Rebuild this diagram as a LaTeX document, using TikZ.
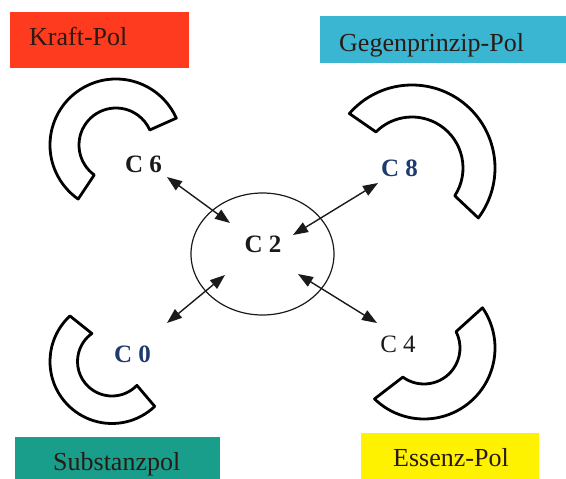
\documentclass[tikz,border=0pt]{standalone}
\usepackage{fontspec}
\setmainfont{Liberation Serif}
\usetikzlibrary{arrows.meta,shapes.geometric}
\definecolor{kraftred}{HTML}{FF3B1F}
\definecolor{gegencyan}{HTML}{3AB6D3}
\definecolor{substeal}{HTML}{1A9E8C}
\definecolor{essyellow}{HTML}{FFF200}
\definecolor{poltxt}{HTML}{2A1A14}
\definecolor{cblue}{HTML}{1F3A6E}
\definecolor{cdark}{HTML}{1A1A1A}
\begin{document}
\begin{tikzpicture}[x=1pt,y=-1pt,
  pole/.style={draw=none, rectangle, inner sep=0pt, outer sep=0pt, anchor=north west},
  poltext/.style={anchor=base west, inner sep=0pt, font=\fontsize{26}{30}\selectfont, text=poltxt},
  clab/.style={anchor=base, inner sep=0pt, font=\fontsize{25}{28}\selectfont\bfseries, text=cdark},
  shoe/.style={draw=black, fill=white, line width=2.8pt, line join=round},
  link/.style={line width=1.4pt, draw=cdark, {Triangle[length=15pt,width=11pt]}-{Triangle[length=15pt,width=11pt]}}]
\useasboundingbox (0,0) rectangle (566,479);
% pole boxes
\node[pole, fill=kraftred, minimum width=179pt, minimum height=56pt] (kbox) at (10,12) {};
\node[poltext] (ktext) at (29,45.7) {Kraft-Pol};
\node[pole, fill=gegencyan, minimum width=246pt, minimum height=47pt] (gbox) at (320,16) {};
\node[poltext] (gtext) at (339,51.7) {Gegenprinzip-Pol};
\node[pole, fill=substeal, minimum width=205pt, minimum height=42pt] (sbox) at (15,437) {};
\node[poltext] (stext) at (53,470.7) {Substanzpol};
\node[pole, fill=essyellow, minimum width=178pt, minimum height=46pt] (ebox) at (361,433) {};
\node[poltext] (etext) at (393,466.7) {Essenz-Pol};
% horseshoes
\coordinate (s6) at (116,145);
\draw[shoe] ([shift={(-24:66)}]s6) arc[start angle=-24, end angle=-235, radius=66]
  -- ([shift={(-234:37)}]s6) arc[start angle=-234, end angle=-24, radius=37] -- cycle;
\coordinate (s8) at (412,168);
\draw[shoe] ([shift={(-139:83)}]s8) arc[start angle=-139, end angle=37, radius=83]
  -- ([shift={(33:51)}]s8) arc[start angle=33, end angle=-135, radius=51] -- cycle;
\coordinate (s0) at (112,361.5);
\draw[shoe] ([shift={(-132.7:62)}]s0) arc[start angle=-132.7, end angle=-313.6, radius=62]
  -- ([shift={(-316.2:34.5)}]s0) arc[start angle=-316.2, end angle=-125.7, radius=34.5] -- cycle;
\coordinate (s4) at (424,348);
\draw[shoe] ([shift={(-34.5:71)}]s4) arc[start angle=-34.5, end angle=134.2, radius=71]
  -- ([shift={(126:36)}]s4) arc[start angle=126, end angle=-27, radius=36] -- cycle;
% centre ellipse
\node[draw=cdark, line width=1.2pt, ellipse, minimum width=143pt, minimum height=122pt, inner sep=0pt] (c2e) at (262.5,254) {};
\node[clab] (c2) at (263,252) {C 2};
% labels
\node[clab] (c6) at (143.5,172) {C 6};
\node[clab, text=cblue] (c8) at (399.5,176) {C 8};
\node[clab, text=cblue] (c0) at (132.5,362) {C 0};
\node[clab, font=\fontsize{25}{28}\selectfont] (c4) at (398,352) {C 4};
% arrows
\coordinate (p6) at (167,177); \coordinate (q6) at (230,223);
\coordinate (p8) at (378,183); \coordinate (q8) at (293,235);
\coordinate (p0) at (167,323); \coordinate (q0) at (225,275);
\coordinate (p4) at (377,323); \coordinate (q4) at (298,274);
\draw[link] (p6) -- (q6);
\draw[link] (p8) -- (q8);
\draw[link] (p0) -- (q0);
\draw[link] (p4) -- (q4);
\end{tikzpicture}
\end{document}
